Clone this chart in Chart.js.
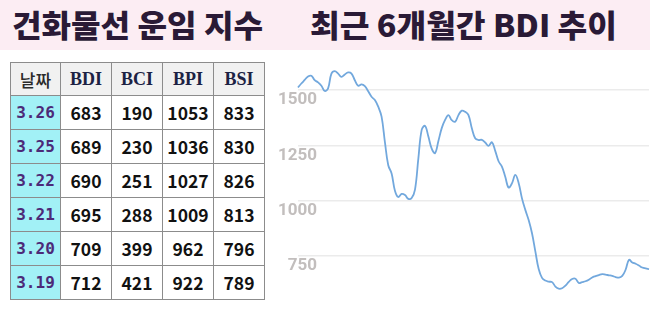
<!DOCTYPE html>
<html><head><meta charset="utf-8">
<script src="https://cdn.jsdelivr.net/npm/chart.js@4/dist/chart.umd.min.js"></script>
<style>
html,body{margin:0;padding:0;width:650px;height:310px;overflow:hidden;background:#fff;}
#band{position:absolute;left:0;top:0;width:650px;height:50px;background:#fcedf3;}
.ttl{position:absolute;top:4px;font-family:"Noto Sans CJK KR",sans-serif;font-weight:900;font-size:31px;color:#2a1a36;white-space:nowrap;transform-origin:0 0;line-height:40px;}
#tbl{position:absolute;left:10px;top:62px;border-collapse:collapse;table-layout:fixed;}
#tbl td,#tbl th{border:1px solid #8c8c8c;padding:0;text-align:center;}
#tbl th{background:#f1f1f1;height:32px;font-family:"Liberation Serif",serif;font-weight:bold;font-size:18px;color:#1c2244;}
#tbl th.k{font-family:"Noto Sans CJK KR",sans-serif;font-weight:500;font-size:17px;color:#2a2a2a;}
#tbl td{height:33px;font-family:"Noto Sans CJK KR",sans-serif;font-weight:600;font-size:17.5px;color:#111;}
#tbl td.d{background:#a2f1f6;font-family:"DejaVu Sans Mono",monospace;font-weight:bold;font-size:16px;color:#4c2a78;}
#wrap{position:absolute;left:270px;top:55px;width:380px;height:255px;}
</style></head><body>
<div id="band"></div>
<div class="ttl" id="t1" data-w="251" style="left:12px">건화물선 운임 지수</div>
<div class="ttl" id="t2" data-w="307" style="left:310px">최근 6개월간 BDI 추이</div>
<table id="tbl"></table>
<div id="wrap"><canvas id="c"></canvas></div>
<script>
const tableHeaders = ['날짜','BDI','BCI','BPI','BSI'];
const dates = ['3.26','3.25','3.22','3.21','3.20','3.19'];
const bdi = [683,689,690,695,709,712];
const bci = [190,230,251,288,399,421];
const bpi = [1053,1036,1027,1009,962,922];
const bsi = [833,830,826,813,796,789];
const yTicks = [750,1000,1250,1500];
const trendValues = [
1512,1530,1546,1562,1565,1545,1535,1520,1496,1508,
1575,1586,1575,1560,1571,1580,1575,1545,1520,1526,
1518,1495,1470,1455,1425,1380,1265,1160,1123,1045,
1016,1030,1025,1008,1012,1050,1190,1320,1338,1290,
1235,1215,1270,1328,1365,1387,1364,1357,1387,1407,
1402,1387,1327,1282,1274,1275,1263,1248,1264,1225,
1178,1154,1108,1059,1078,1116,1080,1010,958,912,
852,770,690,650,638,633,631,611,601,603,
615,632,645,646,627,631,635,642,652,658,
663,667,665,662,659,654,651,659,687,732,
720,714,706,697,693,690
];

document.querySelectorAll('.ttl').forEach(el=>{
  const w = el.getBoundingClientRect().width;
  el.style.transform = 'scaleX(' + (parseFloat(el.dataset.w)/w) + ')';
});

const colW = [50,51,51,51,51];
const tbl = document.getElementById('tbl');
let cg = '<colgroup>' + colW.map(w=>'<col style="width:'+w+'px">').join('') + '</colgroup>';
let h = '<tr>' + tableHeaders.map((t,i)=>'<th'+(i===0?' class="k"':'')+'>'+t+'</th>').join('') + '</tr>';
dates.forEach((d,i)=>{
  h += '<tr><td class="d">'+d+'</td><td>'+bdi[i]+'</td><td>'+bci[i]+'</td><td>'+bpi[i]+'</td><td>'+bsi[i]+'</td></tr>';
});
tbl.innerHTML = cg + h;

new Chart(document.getElementById('c'), {
  type:'line',
  data:{
    labels: trendValues.map((_,i)=>String(i)),
    datasets:[{
      data: trendValues,
      borderColor:'#72a8dd',
      borderWidth:1.8,
      pointRadius:0,
      tension:0.4,
      fill:false
    }]
  },
  options:{
    responsive:true,
    maintainAspectRatio:false,
    animation:false,
    layout:{padding:{top:2,bottom:10,left:0,right:1}},
    plugins:{legend:{display:false},tooltip:{enabled:false}},
    scales:{
      x:{display:false},
      y:{
        min:550,max:1650,
        afterBuildTicks:(s)=>{ s.ticks = yTicks.map(v=>({value:v})); },
        afterFit:(s)=>{ s.width = 28; },
        border:{display:false},
        grid:{color:'#ebebeb',lineWidth:1.6,drawTicks:false},
        ticks:{
          mirror:true,
          crossAlign:'far',
          padding:-20,
          labelOffset:10,
          color:'#c2bebd',
          font:{family:'Roboto',size:17,weight:'bold'},
          callback:(v)=>String(v)
        }
      }
    }
  }
});
</script>
</body></html>
